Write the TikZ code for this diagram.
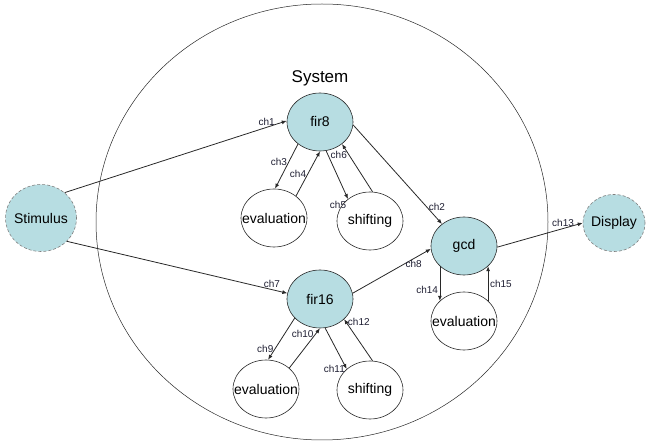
\documentclass[tikz,border=0pt]{standalone}
\usepackage{fontspec}
\setmainfont{Liberation Sans}
\usepackage{xcolor}
\definecolor{procfill}{RGB}{183,221,226}
\definecolor{lineclr}{RGB}{40,40,40}
\definecolor{lblclr}{RGB}{30,30,50}
\usepackage{tikz}
\usetikzlibrary{shapes.geometric}
\usetikzlibrary{arrows.meta}
\newcommand{\widthproc}{66pt}
\newcommand{\heightproc}{58pt}
\tikzset{
    common/.style={ellipse, draw=lineclr, line width=0.6pt, inner sep=0pt,
        minimum width=\widthproc, minimum height=\heightproc,
        font=\fontsize{14}{16}\selectfont,
        execute at begin node={\hbox to 0pt\bgroup\hss},
        execute at end node={\hss\egroup}},
    proc/.style={common, fill=procfill},
    task/.style={common, fill=white},
    ext/.style={common, fill=procfill, draw=gray, densely dashed},
    chan/.style={->, line width=0.8pt, lineclr},
    lbl/.style={font=\fontsize{10}{11}\selectfont, inner sep=1.5pt, text=lblclr}
}

\begin{document}
\begin{tikzpicture}[x=1pt, y=-1pt, >={Latex[length=5pt, width=4pt]}]
    \useasboundingbox (0,0) rectangle (646,443);

    \node[ellipse, draw=lineclr, line width=0.5pt, inner sep=0pt,
          minimum width=452pt, minimum height=436pt] (sysbound) at (322,222) {};
    \node[font=\fontsize{17}{20}\selectfont] (syslabel) at (320,78) {System};

    \node[ext, minimum width=71pt, minimum height=67pt] (stim) at (41,218) {Stimulus};
    \node[ext, minimum width=62pt, minimum height=57pt] (disp) at (614,223) {Display};

    \node[proc] (fir8) at (320,122) {fir8};
    \node[task] (evalA) at (274,218) {evaluation};
    \node[task] (shiftA) at (370,221) {shifting};

    \node[proc] (fir16) at (320,299) {fir16};
    \node[task] (evalB) at (266,389) {evaluation};
    \node[task] (shiftB) at (370,390) {shifting};

    \node[proc] (gcd) at (464,246) {gcd};
    \node[task] (evalC) at (464,321) {evaluation};

    \draw[chan] (stim.47) -- node[lbl, pos=.91, above] {ch1} (fir8.178);
    \draw[chan] (stim.318) -- node[lbl, pos=.93, above] {ch7} (fir16.170);
    \draw[chan] (fir8.225) -- node[lbl, pos=.4, left] {ch3} (evalA.88);
    \draw[chan] (evalA.45) -- node[lbl, pos=.5, left] {ch4} (fir8.270);
    \draw[chan] (fir8.282) -- node[lbl, pos=1, below left] {ch5} (shiftA.135);
    \draw[chan] (shiftA.85) -- node[lbl, pos=.78, left] {ch6} (fir8.315);
    \draw[chan] (fir8.355) -- node[lbl, pos=.83, right] {ch2} (gcd.135);
    \draw[chan] (fir16.10) -- node[lbl, pos=.78, below] {ch8} (gcd.185);
    \draw[chan] (gcd.358) -- node[lbl, pos=.77, above] {ch13} (disp.180);
    \draw[chan] (gcd.220) -- node[lbl, pos=.7, left] {ch14} (evalC.140);
    \draw[chan] (evalC.40) -- node[lbl, pos=.5, right] {ch15} (gcd.320);
    \draw[chan] (fir16.217) -- node[lbl, pos=.73, left] {ch9} (evalB.86);
    \draw[chan] (evalB.42) -- node[lbl, pos=.85, left] {ch10} (fir16.270);
    \draw[chan] (fir16.280) -- node[lbl, pos=1, left] {ch11} (shiftB.138);
    \draw[chan] (shiftB.85) -- node[lbl, pos=.93, right] {ch12} (fir16.320);
\end{tikzpicture}
\end{document}
